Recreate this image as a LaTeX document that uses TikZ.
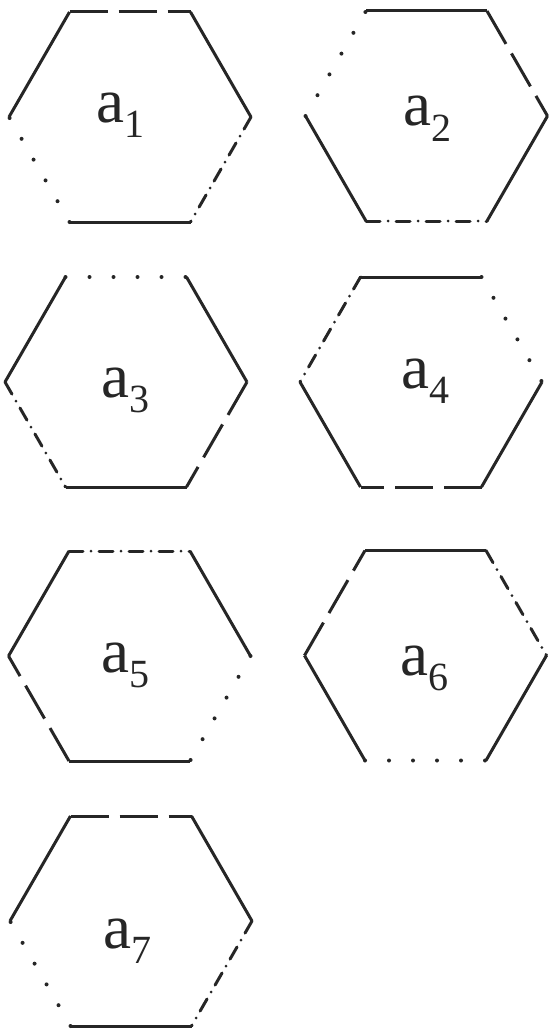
\documentclass[tikz,border=0pt]{standalone}
\usepackage{fontspec}
\setmainfont{Liberation Serif}
\newcommand{\subdig}[1]{\raisebox{-15pt}{\fontsize{40}{40}\selectfont #1}}
\newcommand{\hexcoords}[3]{%
  \coordinate (#1-0) at (#2-60.5,#3-105);
  \coordinate (#1-1) at (#2+60.5,#3-105);
  \coordinate (#1-2) at (#2+121,#3);
  \coordinate (#1-3) at (#2+60.5,#3+105);
  \coordinate (#1-4) at (#2-60.5,#3+105);
  \coordinate (#1-5) at (#2-121,#3);
}
\tikzset{
  edge/.style={line width=3pt, black!85},
  solidedge/.style={edge, line cap=butt},
  dashedge/.style={edge, line cap=butt, dash pattern=on 38pt off 11pt},
  dotedge/.style={edge, line width=4pt, line cap=round, dash pattern=on 0pt off 24pt},
  dashdotedge/.style={edge, line cap=round, dash pattern=on 14pt off 8pt on 0pt off 8pt},
  lbl/.style={inner sep=0pt, anchor=base west, text=black!85, font=\fontsize{63}{63}\selectfont}
}
\begin{document}
\begin{tikzpicture}[x=1pt,y=-1pt]
\useasboundingbox (0,0) rectangle (549,1030);
\hexcoords{h1}{130}{117}
\hexcoords{h2}{426.5}{116}
\hexcoords{h3}{126}{382}
\hexcoords{h4}{421}{382}
\hexcoords{h5}{129.5}{656}
\hexcoords{h6}{425.5}{655.5}
\hexcoords{h7}{131}{921}
% a1
\draw[dashedge] (h1-0) -- (h1-1);
\draw[solidedge] (h1-1) -- (h1-2);
\draw[dashdotedge] (h1-2) -- (h1-3);
\draw[solidedge] (h1-3) -- (h1-4);
\draw[dotedge] (h1-4) -- (h1-5);
\draw[solidedge] (h1-5) -- (h1-0);
% a2
\draw[solidedge] (h2-0) -- (h2-1);
\draw[dashedge] (h2-1) -- (h2-2);
\draw[solidedge] (h2-2) -- (h2-3);
\draw[dashdotedge] (h2-4) -- (h2-3);
\draw[solidedge] (h2-4) -- (h2-5);
\draw[dotedge] (h2-5) -- (h2-0);
% a3
\draw[dotedge] (h3-0) -- (h3-1);
\draw[solidedge] (h3-1) -- (h3-2);
\draw[dashedge] (h3-2) -- (h3-3);
\draw[solidedge] (h3-3) -- (h3-4);
\draw[dashdotedge] (h3-5) -- (h3-4);
\draw[solidedge] (h3-5) -- (h3-0);
% a4
\draw[solidedge] (h4-0) -- (h4-1);
\draw[dotedge] (h4-1) -- (h4-2);
\draw[solidedge] (h4-2) -- (h4-3);
\draw[dashedge] (h4-3) -- (h4-4);
\draw[solidedge] (h4-4) -- (h4-5);
\draw[dashdotedge] (h4-0) -- (h4-5);
% a5
\draw[dashdotedge] (h5-0) -- (h5-1);
\draw[solidedge] (h5-1) -- (h5-2);
\draw[dotedge] (h5-2) -- (h5-3);
\draw[solidedge] (h5-3) -- (h5-4);
\draw[dashedge] (h5-4) -- (h5-5);
\draw[solidedge] (h5-5) -- (h5-0);
% a6
\draw[solidedge] (h6-0) -- (h6-1);
\draw[dashdotedge] (h6-1) -- (h6-2);
\draw[solidedge] (h6-2) -- (h6-3);
\draw[dotedge] (h6-4) -- (h6-3);
\draw[solidedge] (h6-4) -- (h6-5);
\draw[dashedge] (h6-5) -- (h6-0);
% a7
\draw[dashedge] (h7-0) -- (h7-1);
\draw[solidedge] (h7-1) -- (h7-2);
\draw[dashdotedge] (h7-2) -- (h7-3);
\draw[solidedge] (h7-3) -- (h7-4);
\draw[dotedge] (h7-4) -- (h7-5);
\draw[solidedge] (h7-5) -- (h7-0);
% labels
\node[lbl] (l1) at (96,122) {a\subdig{1}};
\node[lbl] (l2) at (403,126) {a\subdig{2}};
\node[lbl] (l3) at (101,397) {a\subdig{3}};
\node[lbl] (l4) at (401,388) {a\subdig{4}};
\node[lbl] (l5) at (101,672) {a\subdig{5}};
\node[lbl] (l6) at (400,675) {a\subdig{6}};
\node[lbl] (l7) at (103,948) {a\subdig{7}};
\end{tikzpicture}
\end{document}
